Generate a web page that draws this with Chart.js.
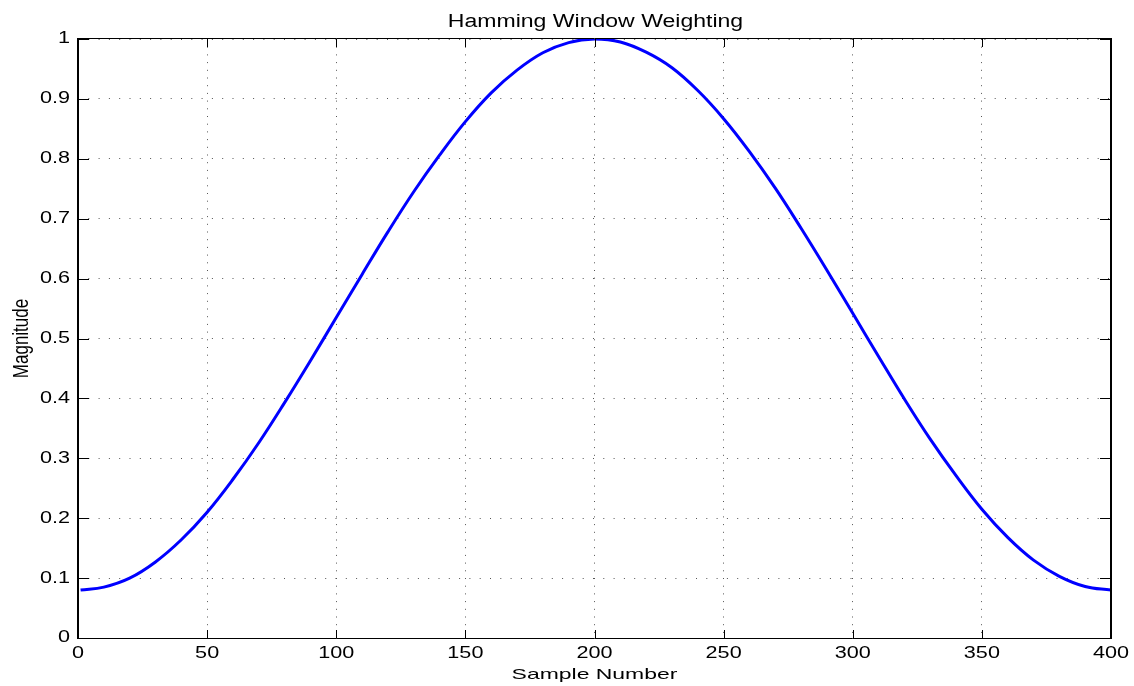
<!DOCTYPE html>
<html>
<head>
<meta charset="utf-8">
<script src="https://cdn.jsdelivr.net/npm/chart.js@4/dist/chart.umd.min.js"></script>
<style>
  html, body { margin: 0; padding: 0; background: #ffffff; }
  #wrap { width: 1134px; height: 686px; }
</style>
</head>
<body>
<div id="wrap"><canvas id="c" width="1134" height="686"></canvas></div>
<script>
// ---- Data ----
const samples = [1, 10, 20, 30, 40, 50, 60, 70, 80, 90, 100, 110, 120, 130, 140, 150, 160, 170, 180, 190, 200,
                 210, 220, 230, 240, 250, 260, 270, 280, 290, 300, 310, 320, 330, 340, 350, 360, 370, 380, 390, 400];
const magnitude = [0.080, 0.085, 0.100, 0.127, 0.164, 0.210, 0.265, 0.326, 0.393, 0.463, 0.535, 0.607, 0.678, 0.745,
                   0.806, 0.862, 0.910, 0.948, 0.977, 0.994, 1.000,
                   0.995, 0.978, 0.952, 0.914, 0.867, 0.812, 0.751, 0.684, 0.614, 0.542, 0.470, 0.399, 0.332,
                   0.271, 0.215, 0.168, 0.130, 0.103, 0.086, 0.080];
const xTickValues = [0, 50, 100, 150, 200, 250, 300, 350, 400];
const xTickLabels = ['0', '50', '100', '150', '200', '250', '300', '350', '400'];
const yTickValues = [0, 0.1, 0.2, 0.3, 0.4, 0.5, 0.6, 0.7, 0.8, 0.9, 1];
const yTickLabels = ['0', '0.1', '0.2', '0.3', '0.4', '0.5', '0.6', '0.7', '0.8', '0.9', '1'];
const titleText = 'Hamming Window Weighting';
const xLabelText = 'Sample Number';
const yLabelText = 'Magnitude';

const FONT = '"Liberation Sans", Arial, Helvetica, sans-serif';

function drawScaledText(ctx, text, x, y, px, sx, align, baseline, rot) {
  ctx.save();
  ctx.font = px + 'px ' + FONT;
  ctx.fillStyle = '#000000';
  ctx.textAlign = align;
  ctx.textBaseline = baseline;
  ctx.translate(x, y);
  ctx.scale(sx, 1);
  if (rot) ctx.rotate(rot);
  ctx.fillText(text, 0, 0);
  ctx.restore();
}

const frame = {
  id: 'matlabFrame',
  afterDraw(chart) {
    const ctx = chart.ctx;
    const a = chart.chartArea;
    const xs = chart.scales.x, ys = chart.scales.y;
    ctx.save();
    ctx.strokeStyle = '#000000';
    // box
    ctx.lineWidth = 1;
    ctx.beginPath();
    ctx.moveTo(a.left, Math.round(a.top) - 0.5);
    ctx.lineTo(a.right, Math.round(a.top) - 0.5);
    ctx.moveTo(a.left, Math.round(a.bottom) + 0.5);
    ctx.lineTo(a.right, Math.round(a.bottom) + 0.5);
    ctx.stroke();
    ctx.lineWidth = 2;
    ctx.beginPath();
    ctx.moveTo(Math.round(a.left), a.top - 1);
    ctx.lineTo(Math.round(a.left), a.bottom + 1);
    ctx.moveTo(Math.round(a.right), a.top - 1);
    ctx.lineTo(Math.round(a.right), a.bottom + 1);
    ctx.stroke();
    // inward tick marks
    ctx.lineWidth = 1;
    ctx.beginPath();
    xTickValues.forEach(v => {
      const px = Math.round(xs.getPixelForValue(v)) + 0.5;
      ctx.moveTo(px, a.bottom); ctx.lineTo(px, a.bottom - 8);
      ctx.moveTo(px, a.top); ctx.lineTo(px, a.top + 8);
    });
    yTickValues.forEach(v => {
      const py = Math.round(ys.getPixelForValue(v)) + 0.5;
      ctx.moveTo(a.left, py); ctx.lineTo(a.left + 11, py);
      ctx.moveTo(a.right, py); ctx.lineTo(a.right - 11, py);
    });
    ctx.stroke();
    ctx.restore();

    // tick labels
    yTickValues.forEach((v, i) => {
      drawScaledText(ctx, yTickLabels[i], a.left - 8, ys.getPixelForValue(v), 16, 1.35, 'right', 'middle');
    });
    xTickValues.forEach((v, i) => {
      drawScaledText(ctx, xTickLabels[i], xs.getPixelForValue(v), a.bottom + 20, 16, 1.35, 'center', 'alphabetic');
    });
    const cx = (a.left + a.right) / 2;
    drawScaledText(ctx, titleText, cx + 1, 27, 18, 1.28, 'center', 'alphabetic');
    drawScaledText(ctx, xLabelText, cx, 679, 15, 1.53, 'center', 'alphabetic');
    drawScaledText(ctx, yLabelText, 28, (a.top + a.bottom) / 2, 17, 1.35, 'center', 'alphabetic', -Math.PI / 2);
  }
};

new Chart(document.getElementById('c'), {
  type: 'line',
  data: {
    datasets: [{
      data: samples.map((s, i) => ({ x: s, y: magnitude[i] })),
      borderColor: '#0000ff',
      borderWidth: 3,
      pointRadius: 0,
      fill: false,
      tension: 0.4
    }]
  },
  options: {
    responsive: false,
    animation: false,
    devicePixelRatio: 1,
    layout: { padding: { top: 39, right: 23, left: 0, bottom: 0 } },
    plugins: { legend: { display: false }, title: { display: false }, tooltip: { enabled: false } },
    scales: {
      x: {
        type: 'linear', min: 0, max: 400,
        afterBuildTicks: s => { s.ticks = xTickValues.map(v => ({ value: v })); },
        afterFit: s => { s.height = 48; },
        ticks: { display: false },
        grid: { color: '#555555', lineWidth: 1, drawTicks: false },
        border: { display: false, dash: [1, 6.7] }
      },
      y: {
        type: 'linear', min: 0, max: 1,
        afterBuildTicks: s => { s.ticks = yTickValues.map(v => ({ value: v })); },
        afterFit: s => { s.width = 78; },
        ticks: { display: false },
        grid: { color: '#555555', lineWidth: 1, drawTicks: false },
        border: { display: false, dash: [1, 9.3] }
      }
    }
  },
  plugins: [frame]
});
</script>
</body>
</html>
